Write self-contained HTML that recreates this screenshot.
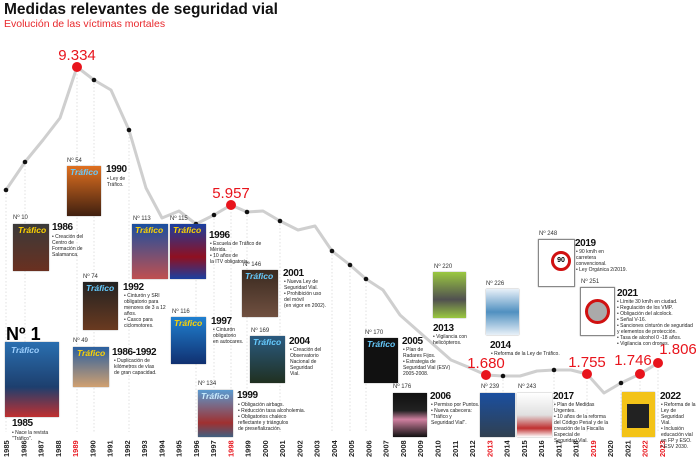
<!DOCTYPE html>
<html><head><meta charset="utf-8"><style>
body{margin:0;width:700px;height:460px;background:#fff;position:relative;overflow:hidden;font-family:"Liberation Sans",sans-serif;}
.a{position:absolute}
.c{position:absolute;box-shadow:0 0 1px #777}
.n{position:absolute;font-size:6px;color:#333;font-family:"Liberation Sans Narrow","Liberation Sans",sans-serif}
.y{position:absolute;font-size:10px;font-weight:bold;color:#111;letter-spacing:-0.4px}
.t{position:absolute;font-size:5px;line-height:6px;color:#222}
.tr{position:absolute;font-size:8.5px;font-style:italic;font-weight:bold;color:#ffd400}
</style></head><body>
<div class="a" style="left:4px;top:1px;font-size:15.5px;font-weight:bold;color:#111">Medidas relevantes de seguridad vial</div>
<div class="a" style="left:4px;top:18px;font-size:10.5px;color:#e8282c">Evolución de las víctimas mortales</div>
<svg class="a" style="left:0;top:0" width="700" height="460">
<g stroke="#ccc" stroke-width="0.6" stroke-dasharray="1.5,2">
<line x1="6" y1="190" x2="6" y2="432"/><line x1="25" y1="162" x2="25" y2="432"/><line x1="77" y1="67" x2="77" y2="432"/><line x1="94" y1="80" x2="94" y2="432"/><line x1="129" y1="130" x2="129" y2="432"/><line x1="196" y1="224" x2="196" y2="432"/><line x1="214" y1="215" x2="214" y2="432"/><line x1="231" y1="205" x2="231" y2="432"/><line x1="247" y1="212" x2="247" y2="432"/><line x1="280" y1="221" x2="280" y2="432"/><line x1="332" y1="251" x2="332" y2="432"/><line x1="350" y1="265" x2="350" y2="432"/><line x1="366" y1="279" x2="366" y2="432"/><line x1="486" y1="375" x2="486" y2="432"/><line x1="503" y1="376" x2="503" y2="432"/><line x1="554" y1="370" x2="554" y2="432"/><line x1="587" y1="374" x2="587" y2="432"/><line x1="621" y1="383" x2="621" y2="432"/><line x1="640" y1="374" x2="640" y2="432"/><line x1="658" y1="363" x2="658" y2="432"/>
</g>
<polyline fill="none" stroke="#cfcfcf" stroke-width="3" stroke-linejoin="round" points="6,190 25,162 43,140 60,118 77,67 94,80 111,90 129,130 146,188 162,218 179,211 196,224 214,215 231,205 247,212 263,211 280,221 298,230 315,226 332,251 350,265 366,279 383,290 400,315 417,330 434,345 451,360 468,367 486,375 503,376 520,376 537,371 554,370 571,370 587,374 604,393 621,383 640,374 658,363"/>
<g fill="#111"><circle cx="6" cy="190" r="2.3"/><circle cx="25" cy="162" r="2.3"/><circle cx="94" cy="80" r="2.3"/><circle cx="129" cy="130" r="2.3"/><circle cx="196" cy="224" r="2.3"/><circle cx="214" cy="215" r="2.3"/><circle cx="247" cy="212" r="2.3"/><circle cx="280" cy="221" r="2.3"/><circle cx="332" cy="251" r="2.3"/><circle cx="350" cy="265" r="2.3"/><circle cx="366" cy="279" r="2.3"/><circle cx="503" cy="376" r="2.3"/><circle cx="554" cy="370" r="2.3"/><circle cx="621" cy="383" r="2.3"/></g>
<g fill="#e8141c"><circle cx="77" cy="67" r="5"/><circle cx="231" cy="205" r="5"/><circle cx="486" cy="375" r="5"/><circle cx="587" cy="374" r="5"/><circle cx="640" cy="374" r="5"/><circle cx="658" cy="363" r="5"/></g>
<g fill="#e8141c" font-size="15" text-anchor="middle" font-family="Liberation Sans"><text x="77" y="60">9.334</text><text x="231" y="198">5.957</text><text x="486" y="368">1.680</text><text x="587" y="367">1.755</text><text x="633" y="365">1.746</text><text x="678" y="354">1.806</text></g>
<g font-size="7.5" font-weight="bold" font-family="Liberation Sans Narrow, Liberation Sans" text-anchor="start" id="yrs"></g>
</svg>
<script>
var g=document.getElementById('yrs'),red=[1989,1998,2013,2019,2022,2023],s='';
for(var i=0;i<39;i++){var y=1985+i,x=6+i*17.26+3;s+='<text transform="translate('+x.toFixed(1)+',457) rotate(-90)" fill="'+(red.indexOf(y)>=0?'#e8141c':'#222')+'">'+y+'</text>';}
g.innerHTML=s;
</script>
<div class="a" style="left:6px;top:324px;font-size:18px;font-weight:bold">Nº 1</div>
<div class="c" style="left:5px;top:342px;width:54px;height:75px;background:linear-gradient(#2a6fb0,#1d3f6e 60%,#c03030)"><span class="tr" style="left:6px;top:3px;color:#9ed0ff">Tráfico</span></div>
<div class="y" style="left:12px;top:418px">1985</div><div class="t" style="left:12px;top:430px">• Nace la revista<br>"Tráfico".</div>
<div class="n" style="left:13px;top:215px">Nº 10</div>
<div class="c" style="left:13px;top:224px;width:36px;height:47px;background:linear-gradient(#3a3a3a,#6a3020)"><span class="tr" style="left:5px;top:1px">Tráfico</span></div>
<div class="y" style="left:52px;top:222px">1986</div><div class="t" style="left:52px;top:234px">• Creación del<br>Centro de<br>Formación de<br>Salamanca.</div>
<div class="n" style="left:67px;top:158px">Nº 54</div>
<div class="c" style="left:67px;top:166px;width:34px;height:50px;background:linear-gradient(#e07020,#402010)"><span class="tr" style="left:3px;top:1px;color:#6cf">Tráfico</span></div>
<div class="y" style="left:106px;top:164px">1990</div><div class="t" style="left:107px;top:176px">• Ley de<br>Tráfico.</div>
<div class="n" style="left:83px;top:274px">Nº 74</div>
<div class="c" style="left:83px;top:282px;width:35px;height:48px;background:linear-gradient(#222,#6a3a20)"><span class="tr" style="left:3px;top:1px;color:#6cf">Tráfico</span></div>
<div class="y" style="left:123px;top:282px">1992</div><div class="t" style="left:124px;top:293px">• Cinturón y SRI<br>obligatorio para<br>menores de 3 a 12<br>años.<br>• Casco para<br>ciclomotores.</div>
<div class="n" style="left:73px;top:338px">Nº 49</div>
<div class="c" style="left:73px;top:347px;width:36px;height:40px;background:linear-gradient(#2a5fa0,#d0a070)"><span class="tr" style="left:4px;top:1px">Tráfico</span></div>
<div class="y" style="left:112px;top:347px">1986-1992</div><div class="t" style="left:114px;top:358px">• Duplicación de<br>kilómetros de vías<br>de gran capacidad.</div>
<div class="n" style="left:133px;top:216px">Nº 113</div>
<div class="c" style="left:132px;top:224px;width:36px;height:55px;background:linear-gradient(#1a4fa0,#c05050)"><span class="tr" style="left:3px;top:1px">Tráfico</span></div>
<div class="n" style="left:170px;top:216px">Nº 115</div>
<div class="c" style="left:170px;top:224px;width:36px;height:55px;background:linear-gradient(#1a3fa0,#901020 60%,#1a3fa0)"><span class="tr" style="left:3px;top:1px">Tráfico</span></div>
<div class="y" style="left:209px;top:230px">1996</div><div class="t" style="left:210px;top:241px">• Escuela de Tráfico de<br>Mérida.<br>• 10 años de<br>la ITV obligatoria.</div>
<div class="n" style="left:172px;top:309px">Nº 116</div>
<div class="c" style="left:171px;top:317px;width:35px;height:47px;background:linear-gradient(#2080d0,#103070)"><span class="tr" style="left:3px;top:1px">Tráfico</span></div>
<div class="y" style="left:211px;top:316px">1997</div><div class="t" style="left:213px;top:327px">• Cinturón<br>obligatorio<br>en autocares.</div>
<div class="n" style="left:198px;top:381px">Nº 134</div>
<div class="c" style="left:198px;top:390px;width:35px;height:47px;background:linear-gradient(#5a9ad0,#a03030 70%,#406080)"><span class="tr" style="left:3px;top:1px;color:#cef">Tráfico</span></div>
<div class="y" style="left:237px;top:390px">1999</div><div class="t" style="left:238px;top:402px">• Obligación airbags.<br>• Reducción tasa alcoholemia.<br>• Obligatorios chaleco<br>reflectante y triángulos<br>de preseñalización.</div>
<div class="n" style="left:243px;top:262px">Nº 146</div>
<div class="c" style="left:242px;top:270px;width:36px;height:47px;background:linear-gradient(#3a2a20,#705040)"><span class="tr" style="left:3px;top:1px;color:#6cf">Tráfico</span></div>
<div class="y" style="left:283px;top:268px">2001</div><div class="t" style="left:284px;top:279px">• Nueva Ley de<br>Seguridad Vial.<br>• Prohibición uso<br>del móvil<br>(en vigor en 2002).</div>
<div class="n" style="left:251px;top:328px">Nº 169</div>
<div class="c" style="left:250px;top:336px;width:35px;height:47px;background:linear-gradient(#2a5a80,#203020)"><span class="tr" style="left:3px;top:1px;color:#6cf">Tráfico</span></div>
<div class="y" style="left:289px;top:336px">2004</div><div class="t" style="left:290px;top:347px">• Creación del<br>Observatorio<br>Nacional de<br>Seguridad<br>Vial.</div>
<div class="n" style="left:365px;top:330px">Nº 170</div>
<div class="c" style="left:364px;top:338px;width:34px;height:45px;background:#111"><span class="tr" style="left:3px;top:1px;color:#6cf">Tráfico</span></div>
<div class="y" style="left:402px;top:336px">2005</div><div class="t" style="left:403px;top:347px">• Plan de<br>Radares Fijos.<br>• Estrategia de<br>Seguridad Vial (ESV)<br>2005-2008.</div>
<div class="n" style="left:393px;top:384px">Nº 176</div>
<div class="c" style="left:393px;top:393px;width:34px;height:44px;background:linear-gradient(#111,#222 40%,#d080a0 60%,#111)"></div>
<div class="y" style="left:430px;top:391px">2006</div><div class="t" style="left:431px;top:402px">• Permiso por Puntos.<br>• Nueva cabecera:<br>"Tráfico y<br>Seguridad Vial".</div>
<div class="n" style="left:434px;top:264px">Nº 220</div>
<div class="c" style="left:433px;top:272px;width:33px;height:46px;background:linear-gradient(#9ac840,#505050 60%,#9ac840)"></div>
<div class="y" style="left:433px;top:323px">2013</div><div class="t" style="left:433px;top:334px">• Vigilancia con<br>helicópteros.</div>
<div class="n" style="left:486px;top:281px">Nº 226</div>
<div class="c" style="left:486px;top:289px;width:33px;height:46px;background:linear-gradient(#e8f0f8,#5090c0 50%,#e8f0f8)"></div>
<div class="y" style="left:490px;top:340px">2014</div><div class="t" style="left:491px;top:351px">• Reforma de la Ley de Tráfico.</div>
<div class="n" style="left:481px;top:384px">Nº 239</div>
<div class="c" style="left:480px;top:393px;width:35px;height:44px;background:linear-gradient(#1a4fa0,#304050)"></div>
<div class="n" style="left:518px;top:384px">Nº 243</div>
<div class="c" style="left:517px;top:393px;width:35px;height:44px;background:linear-gradient(#fff,#e0e0e0 50%,#c03030 80%,#fff)"></div>
<div class="y" style="left:553px;top:391px">2017</div><div class="t" style="left:554px;top:402px">• Plan de Medidas<br>Urgentes.<br>• 10 años de la reforma<br>del Código Penal y de la<br>creación de la Fiscalía<br>Especial de<br>Seguridad Vial.</div>
<div class="n" style="left:539px;top:231px">Nº 248</div>
<div class="c" style="left:538px;top:239px;width:35px;height:46px;background:#fff;border:1px solid #888"><div class="a" style="left:12px;top:11px;width:14px;height:14px;border:3px solid #d01010;border-radius:50%;font-size:7px;font-weight:bold;text-align:center;line-height:14px">90</div></div>
<div class="y" style="left:575px;top:238px">2019</div><div class="t" style="left:576px;top:249px">• 90 km/h en<br>carretera<br>convencional.<br>• Ley Orgánica 2/2019.</div>
<div class="n" style="left:581px;top:279px">Nº 251</div>
<div class="c" style="left:580px;top:287px;width:33px;height:47px;background:#fff;border:1px solid #888"><div class="a" style="left:4px;top:11px;width:19px;height:19px;border:3px solid #d01010;border-radius:50%;background:#aaa"></div></div>
<div class="y" style="left:617px;top:288px">2021</div><div class="t" style="left:617px;top:299px">• Límite 30 km/h en ciudad.<br>• Regulación de los VMP.<br>• Obligación del alcolock.<br>• Señal V-16.<br>• Sanciones cinturón de seguridad<br>y elementos de protección.<br>• Tasa de alcohol 0 -18 años.<br>• Vigilancia con drones.</div>
<div class="c" style="left:622px;top:392px;width:33px;height:45px;background:#f3c318"><div class="a" style="left:5px;top:12px;width:22px;height:24px;background:#222"></div></div>
<div class="y" style="left:660px;top:391px">2022</div><div class="t" style="left:661px;top:402px">• Reforma de la<br>Ley de Seguridad<br>Vial.<br>• Inclusión<br>educación vial<br>en FP y ESO.<br>• ESV 2030.</div>
</body></html>
